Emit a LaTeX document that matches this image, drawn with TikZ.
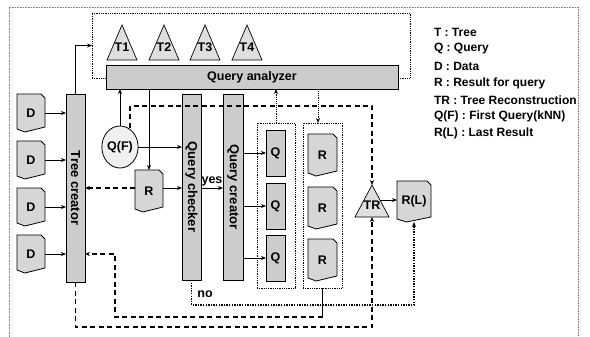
\documentclass[tikz,border=0pt]{standalone}
\usepackage{fontspec}
\setmainfont{Liberation Sans}
\usetikzlibrary{arrows.meta,shapes.geometric,calc,backgrounds}
\newcommand\docout[1]{%
  \begin{scope}[on background layer]
  \filldraw[draw=black,line width=0.8pt,fill=gray!32]
    (#1.north west) -- ([xshift=-4pt]#1.north east) -- ([yshift=-4pt]#1.north east)
    -- ([yshift=5pt]#1.south east) -- ($(#1.south west)!0.28!(#1.south east)$)
    -- ([yshift=3pt]#1.south west) -- cycle;
  \end{scope}}
\begin{document}
\begin{tikzpicture}[x=1pt,y=-1pt,
  every node/.style={inner sep=0pt,outer sep=0pt},
  lab/.style={font=\bfseries\fontsize{12.5}{14}\selectfont},
  legtxt/.style={font=\bfseries\fontsize{12}{14}\selectfont,anchor=west},
  coltxt/.style={font=\bfseries\fontsize{13}{15}\selectfont,rotate=-90},
  colbox/.style={draw=black,line width=0.7pt,fill=gray!40},
  qbox/.style={draw=black,line width=0.7pt,fill=gray!40,minimum width=19pt,minimum height=46pt,lab},
  docnd/.style={lab},
  cont/.style={draw=black,line width=0.8pt,densely dotted},
  tri/.style={draw=black,line width=0.7pt,fill=gray!25},
  arr/.style={-{Stealth[length=5pt,width=4pt]}},
  solidln/.style={line width=0.9pt},
  dashln/.style={line width=1.7pt,dash pattern=on 5pt off 3.5pt},
  dotln/.style={line width=1.4pt,dash pattern=on 1.4pt off 1.2pt},
  fineln/.style={line width=0.9pt,densely dotted}]
\useasboundingbox (0,0) rectangle (590,337);
% outer border
\draw[gray,densely dotted,line width=0.6pt] (9,337) -- (9,7) -- (578,7) -- (578,337);
% tree container
\node[cont,minimum width=318pt,minimum height=65pt] (treebox) at (251,45.5) {};
% trees
\foreach \i/\x in {1/122,2/164,3/205,4/247}{
  \filldraw[tri] (\x,25) -- (\x+15,60) -- (\x-15,60) -- cycle;
  \node[lab] (T\i) at (\x,47) {T\i};
}
% query analyzer
\node[colbox,lab,minimum width=292pt,minimum height=24pt] (QA) at (252,77) {Query analyzer};
% columns
\node[colbox,minimum width=19pt,minimum height=188pt] (TC) at (75.5,188) {};
\node[coltxt] at (TC) {Tree creator};
\node[colbox,minimum width=19pt,minimum height=186pt] (QK) at (191.5,187) {};
\node[coltxt] at (QK) {Query checker};
\node[colbox,minimum width=20pt,minimum height=186pt] (QR) at (233,187) {};
\node[coltxt] at (QR) {Query creator};
% data
\foreach \i/\y in {1/113,2/160,3/207,4/254}{
  \node[docnd,minimum width=28pt,minimum height=38pt] (D\i) at (31,\y) {D};
  \docout{D\i}
  \draw[solidln,arr] (D\i.east) -- (D\i.east -| TC.west);
}
% Q(F)
\node[ellipse,draw=black,line width=0.8pt,fill=gray!12,minimum width=33pt,minimum height=42pt,lab] (QF) at (120,147) {Q(F)};
% R middle
\node[docnd,minimum width=28pt,minimum height=42pt] (R) at (149,191) {R};
\docout{R}
% containers
\node[cont,minimum width=38pt,minimum height=165pt] (Qc) at (276,205.5) {};
\node[cont,minimum width=39pt,minimum height=165pt] (Rc) at (322.5,205.5) {};
\node[qbox] (Q1) at (275.5,153) {Q};
\node[qbox] (Q2) at (275.5,206) {Q};
\node[qbox] (Q3) at (275.5,258) {Q};
\foreach \i/\y in {1/155,2/208,3/260}{
  \node[docnd,minimum width=29pt,minimum height=42pt] (R\i) at (322.5,\y) {R};
  \docout{R\i}
}
% TR and R(L)
\filldraw[tri] (372,185) -- (389,217) -- (355,217) -- cycle;
\node[lab] (TR) at (372,205) {TR};
\coordinate (TRtop) at (372,185);
\coordinate (TRbot) at (372,217);
\coordinate (TRright) at (380,200);
\node[docnd,minimum width=34pt,minimum height=41pt] (RL) at (414,201.5) {R(L)};
\docout{RL}
% solid connectors
\draw[solidln,arr] (TC.north) |- (treebox.west);
\draw[solidln,arr] (QF.north) -- (QF.north |- QA.south);
\draw[solidln,arr] (QF.east) -- (QF.east -| QK.west);
\draw[solidln,arr] (R.north |- QA.south) -- (R.north);
\draw[solidln,arr] ([yshift=3pt]R.east) -- ([yshift=3pt]R.east -| QK.west);
\draw[solidln,arr] ([yshift=3pt]R.east -| QK.east) -- ([yshift=3pt]R.east -| QR.west)
  node[midway,above=2pt,lab] {yes};
\draw[solidln,arr] (Q1.west -| QR.east) -- (Q1.west);
\draw[solidln,arr] (Q2.west -| QR.east) -- (Q2.west);
\draw[solidln,arr] (Q3.west -| QR.east) -- (Q3.west);
\draw[solidln,arr] (TRright) -- (TRright -| RL.west);
% dotted thin connectors with query analyzer
\draw[fineln,arr] (Qc.north) -- (Qc.north |- QA.south);
\draw[fineln,arr] ([xshift=-4.5pt]Rc.north |- QA.south) -- ([xshift=-4.5pt]Rc.north);
% dashed connectors
\coordinate (qfd) at (130,128);
\draw[dashln,arr] (qfd) -- (130,106) -| (TRtop);
\draw[dashln,arr] (TC.south) -- (75.5,327) -| (TRbot);
\draw[dashln,arr] ([yshift=3pt]R.west) -- ([yshift=3pt]R.west -| TC.east);
\draw[line width=1.2pt] (Rc.south) -- (322.5,317);
\draw[dashln,arr] (322.5,317) -- (115,317) |- (TC.east |- D4.east);
% dotted "no" connector
\draw[dotln,arr] (QK.south) -- (191.5,305) -| (RL.south);
\node[lab] at (205,294) {no};
% legend
\node[legtxt] at (434,32) {T : Tree};
\node[legtxt] at (434,49) {Q : Query};
\node[legtxt] at (434,66) {D : Data};
\node[legtxt] at (434,83) {R : Result for query};
\node[legtxt] at (434,100) {TR : Tree Reconstruction};
\node[legtxt] at (434,116) {Q(F) : First Query(kNN)};
\node[legtxt] at (434,133) {R(L) : Last Result};
\end{tikzpicture}
\end{document}
